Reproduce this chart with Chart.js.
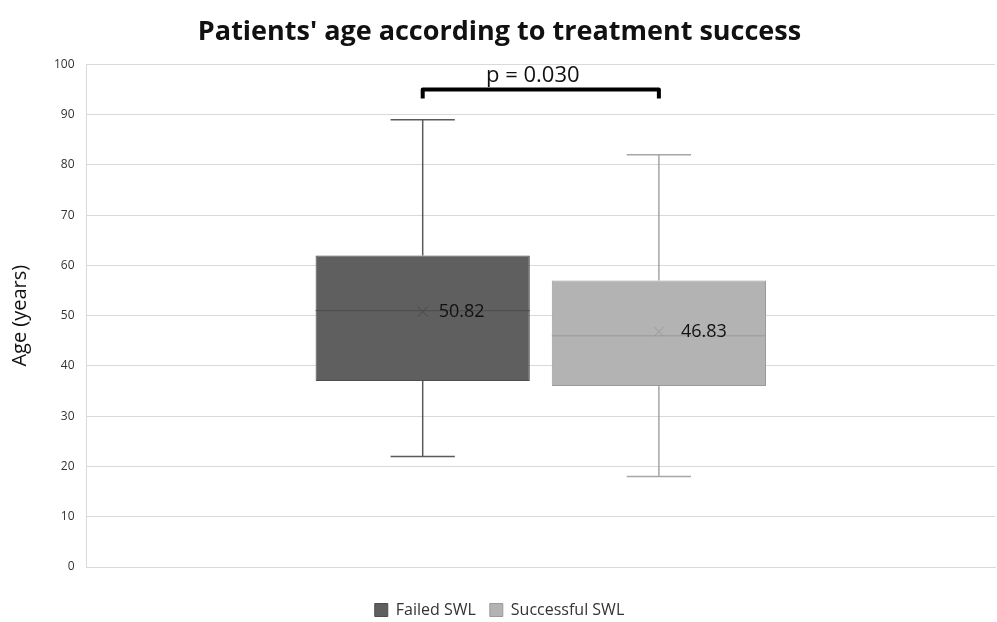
<!DOCTYPE html>
<html>
<head>
<meta charset="utf-8">
<script src="https://cdn.jsdelivr.net/npm/chart.js@4"></script>
<style>
  html, body { margin: 0; padding: 0; background: #fff; }
  #wrap { width: 997px; height: 622px; }
</style>
</head>
<body>
<div id="wrap"><canvas id="box-chart"></canvas></div>
<script>
const categories = [''];
const seriesNames = ['Failed SWL', 'Successful SWL'];
const minValues = [22, 18];
const q1Values = [37, 36];
const medianValues = [51, 46];
const q3Values = [62, 57];
const maxValues = [89, 82];
const meanValues = [50.82, 46.83];
const yTicks = [0, 10, 20, 30, 40, 50, 60, 70, 80, 90, 100];
const pValueText = 'p = 0.030';
const bracketLevel = 95;

const fillColors = ['#5f5f5f', '#b3b3b3'];
const borderColors = ['#4d4d4d', '#9a9a9a'];
const whiskerColors = ['#5a5a5a', '#a6a6a6'];
const fontName = "'Open Sans', 'Liberation Sans', sans-serif";

// whiskers, median, mean marker and labels drawn around the floating bars
const boxExtras = {
    id: 'boxExtras',
    beforeDatasetsDraw(chart) {
        const ctx = chart.ctx;
        const y = chart.scales.y;
        chart.data.datasets.forEach((ds, i) => {
            const bar = chart.getDatasetMeta(i).data[0];
            const cx = bar.x;
            const capHalf = bar.width * 0.15;
            ctx.save();
            ctx.strokeStyle = whiskerColors[i];
            ctx.lineWidth = 1.5;
            ctx.beginPath();
            ctx.moveTo(cx, y.getPixelForValue(q3Values[i]));
            ctx.lineTo(cx, y.getPixelForValue(maxValues[i]));
            ctx.moveTo(cx - capHalf, y.getPixelForValue(maxValues[i]));
            ctx.lineTo(cx + capHalf, y.getPixelForValue(maxValues[i]));
            ctx.moveTo(cx, y.getPixelForValue(q1Values[i]));
            ctx.lineTo(cx, y.getPixelForValue(minValues[i]));
            ctx.moveTo(cx - capHalf, y.getPixelForValue(minValues[i]));
            ctx.lineTo(cx + capHalf, y.getPixelForValue(minValues[i]));
            ctx.stroke();
            ctx.restore();
        });
    },
    afterDatasetsDraw(chart) {
        const ctx = chart.ctx;
        const y = chart.scales.y;
        const centers = [];
        chart.data.datasets.forEach((ds, i) => {
            const bar = chart.getDatasetMeta(i).data[0];
            const cx = bar.x;
            const half = bar.width / 2;
            centers.push(cx);
            ctx.save();
            ctx.strokeStyle = borderColors[i];
            ctx.lineWidth = 1;
            const my = y.getPixelForValue(medianValues[i]);
            ctx.beginPath();
            ctx.moveTo(cx - half, my);
            ctx.lineTo(cx + half, my);
            ctx.stroke();

            const ay = y.getPixelForValue(meanValues[i]);
            const s = 5;
            ctx.strokeStyle = i === 0 ? '#494949' : '#999999';
            ctx.beginPath();
            ctx.moveTo(cx - s, ay - s);
            ctx.lineTo(cx + s, ay + s);
            ctx.moveTo(cx - s, ay + s);
            ctx.lineTo(cx + s, ay - s);
            ctx.stroke();

            ctx.fillStyle = '#111';
            ctx.font = '18px ' + fontName;
            ctx.textAlign = 'left';
            ctx.textBaseline = 'middle';
            ctx.fillText(meanValues[i].toFixed(2), cx + 16 + i * 6, ay);
            ctx.restore();
        });

        // significance bracket
        const by = y.getPixelForValue(bracketLevel);
        ctx.save();
        ctx.strokeStyle = '#000';
        ctx.lineWidth = 4;
        ctx.lineJoin = 'round';
        ctx.beginPath();
        ctx.moveTo(centers[0], by + 9);
        ctx.lineTo(centers[0], by);
        ctx.lineTo(centers[1], by);
        ctx.lineTo(centers[1], by + 9);
        ctx.stroke();
        ctx.fillStyle = '#111';
        ctx.font = '22px ' + fontName;
        ctx.textAlign = 'center';
        ctx.textBaseline = 'middle';
        ctx.fillText(pValueText, (centers[0] + centers[1]) / 2 - 8, by - 14);
        ctx.restore();
    }
};

const ctx = document.getElementById('box-chart').getContext('2d');
new Chart(ctx, {
    type: 'bar',
    data: {
        labels: categories,
        datasets: seriesNames.map((name, i) => ({
            label: name,
            data: [[q1Values[i], q3Values[i]]],
            backgroundColor: fillColors[i],
            borderColor: borderColors[i],
            borderWidth: 1,
            borderSkipped: false,
            categoryPercentage: 0.52,
            barPercentage: 0.907
        }))
    },
    options: {
        responsive: true,
        maintainAspectRatio: false,
        animation: false,
        layout: { padding: { left: 4, right: 2, top: 4, bottom: -6 } },
        plugins: {
            title: {
                display: true,
                text: "Patients' age according to treatment success",
                color: '#111',
                font: { family: fontName, size: 27, weight: 'bold' },
                padding: { top: 12, bottom: 16 }
            },
            legend: {
                position: 'bottom',
                labels: {
                    color: '#333',
                    font: { family: fontName, size: 16 },
                    boxWidth: 13,
                    boxHeight: 13,
                    padding: 14
                }
            },
            tooltip: { enabled: false }
        },
        scales: {
            x: {
                grid: { display: false },
                border: { display: true, color: '#d9d9d9' },
                ticks: { display: false },
                afterFit: axis => { axis.height = 21; }
            },
            y: {
                min: 0,
                max: 100,
                afterBuildTicks: axis => { axis.ticks = yTicks.map(v => ({ value: v })); },
                grid: { color: '#d9d9d9', drawTicks: false },
                border: { display: true, color: '#d9d9d9' },
                ticks: {
                    color: '#333',
                    font: { family: fontName, size: 12 },
                    padding: 12
                },
                title: {
                    display: true,
                    text: 'Age (years)',
                    color: '#111',
                    font: { family: fontName, size: 20 },
                    padding: { bottom: 10 }
                }
            }
        }
    },
    plugins: [boxExtras]
});
</script>
</body>
</html>
